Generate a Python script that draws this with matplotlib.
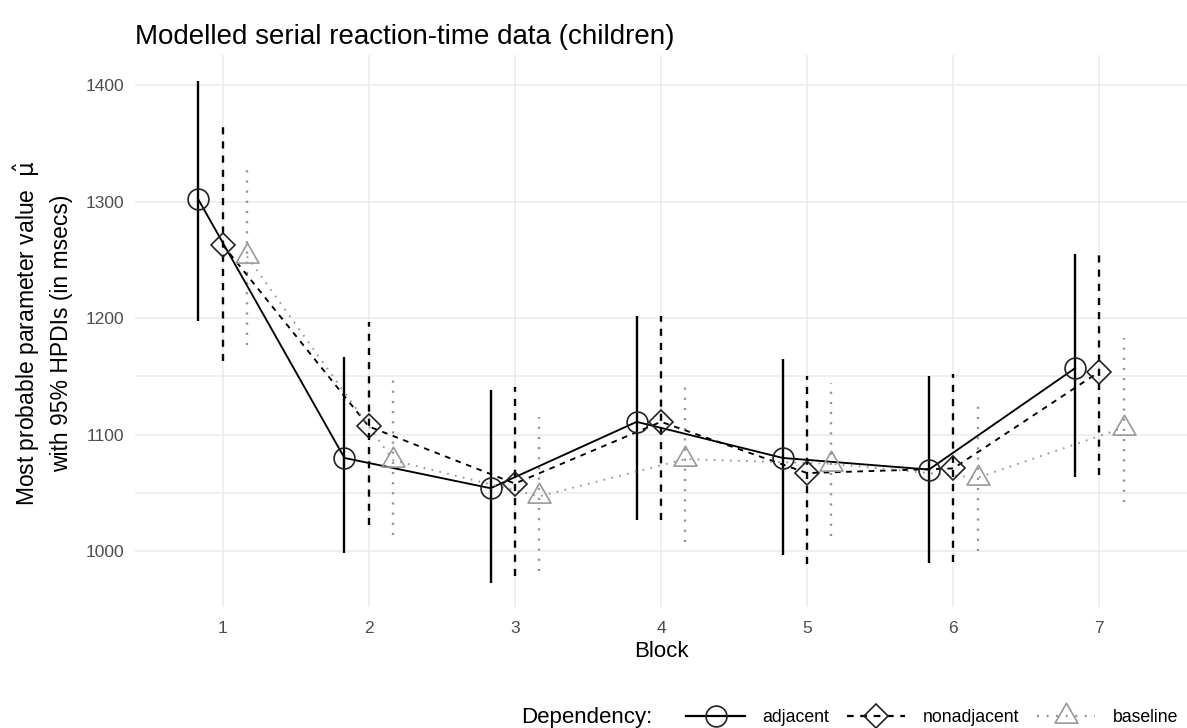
import numpy as np
import matplotlib
matplotlib.use("Agg")
import matplotlib.pyplot as plt
from matplotlib.lines import Line2D
from matplotlib.path import Path

plt.rcParams['font.family'] = ['Liberation Sans', 'DejaVu Sans']

# data (msecs)
blocks = [1, 2, 3, 4, 5, 6, 7]
dependencies = ["adjacent", "nonadjacent", "baseline"]

adjacent_mu = [1302, 1080, 1054, 1111, 1080, 1070, 1157]
adjacent_lo = [1198, 998, 973, 1027, 997, 990, 1064]
adjacent_hi = [1404, 1167, 1138, 1202, 1165, 1150, 1255]

nonadjacent_mu = [1263, 1107, 1058, 1111, 1067, 1071, 1154]
nonadjacent_lo = [1163, 1022, 979, 1027, 989, 991, 1065]
nonadjacent_hi = [1367, 1197, 1141, 1202, 1150, 1152, 1256]

baseline_mu = [1253, 1078, 1047, 1079, 1075, 1063, 1106]
baseline_lo = [1177, 1014, 983, 1008, 1013, 1000, 1042]
baseline_hi = [1333, 1147, 1115, 1147, 1144, 1131, 1183]

yticks = [1000, 1100, 1200, 1300, 1400]
yminor = [1050, 1150]

# ggplot-like triangle (centroid at the data point)
tri = Path([(0, 1), (-0.866, -0.5), (0.866, -0.5), (0, 1)], closed=True)

styles = {
    "adjacent":    dict(dashes=None, color='black', mec='#222222', marker='o', ms=15),
    "nonadjacent": dict(dashes=(3, 3), color='black', mec='#222222', marker='D', ms=12.5),
    "baseline":    dict(dashes=(0.9, 3.4), color='#939393', mec='#999999', marker=tri, ms=19),
}
series = {
    "adjacent": (adjacent_mu, adjacent_lo, adjacent_hi),
    "nonadjacent": (nonadjacent_mu, nonadjacent_lo, nonadjacent_hi),
    "baseline": (baseline_mu, baseline_lo, baseline_hi),
}
offsets = {"adjacent": -1/6, "nonadjacent": 0.0, "baseline": 1/6}

fig = plt.figure(figsize=(11.87, 7.28), dpi=100)
ax = fig.add_axes([135/1187, 1 - 607/728, 1 - 135/1187, (607 - 55)/728])

for name in dependencies:
    mu, lo, hi = series[name]
    st = styles[name]
    x = np.array(blocks) + offsets[name]
    for xi, l, h in zip(x, lo, hi):
        seg, = ax.plot([xi, xi], [l, h], color=st['color'], lw=1.7, solid_capstyle='butt')
        if st['dashes']:
            seg.set_dashes(st['dashes'])
    ln, = ax.plot(x, mu, color=st['color'], lw=1.35, zorder=3)
    if st['dashes']:
        ln.set_dashes(st['dashes'])
    ax.plot(x, mu, ls='none', marker=st['marker'], ms=st['ms'], mfc='none',
            mec=st['mec'], mew=1.2, zorder=4)

ax.set_xlim(0.4, 7.6)
ax.set_ylim(952, 1426)
ax.set_xticks(blocks)
ax.set_yticks(yticks)
ax.set_yticks(yminor, minor=True)
ax.tick_params(axis='both', which='both', length=0, labelsize=12.5, labelcolor='#4D4D4D')
ax.tick_params(axis='x', pad=10)
ax.tick_params(axis='y', pad=8)
ax.grid(True, which='major', color='#EBEBEB', lw=1.1)
ax.grid(True, which='minor', axis='y', color='#EBEBEB', lw=1.1)
ax.set_axisbelow(True)
for sp in ax.spines.values():
    sp.set_visible(False)

ax.set_xlabel("Block", fontsize=16, labelpad=4)

fig.text(42/1187, 1 - 333/728,
         "Most probable parameter value  $\\hat{\\mathrm{\\mu}}$\nwith 95% HPDIs (in msecs)",
         rotation=90, ha='center', va='center', multialignment='center',
         fontsize=16.5, linespacing=1.45)

fig.text(135/1187, 1 - 37/728, "Modelled serial reaction-time data (children)",
         fontsize=20, ha='left', va='center')

# legend along the bottom, right-aligned
handles = []
for name in dependencies:
    st = styles[name]
    h = Line2D([], [], color=st['color'], lw=1.6, marker=st['marker'], ms=st['ms'],
               mfc='none', mec=st['mec'], mew=1.2)
    if st['dashes']:
        h.set_dashes(st['dashes'])
    handles.append(h)
fig.legend(handles, dependencies, ncol=3, loc='center right',
           bbox_to_anchor=(1178/1187, 1 - 718/728), frameon=False,
           fontsize=12.7, handlelength=3.3, handletextpad=1.0,
           columnspacing=1.0, borderaxespad=0, borderpad=0)
fig.text(652/1187, 1 - 718/728, "Dependency:", fontsize=16, ha='right', va='center')

fig.savefig("out.png", dpi=100)
